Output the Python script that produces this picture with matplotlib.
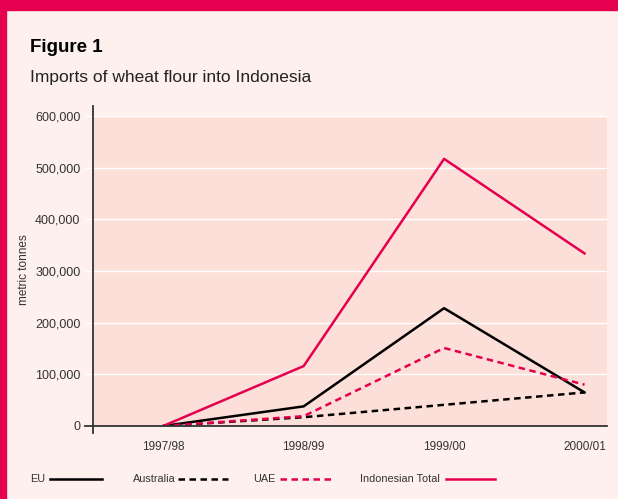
import matplotlib
matplotlib.use("Agg")
import matplotlib.pyplot as plt
from matplotlib.lines import Line2D
from matplotlib.patches import Rectangle

years = ["1997/98", "1998/99", "1999/00", "2000/01"]
eu = [0, 38000, 228000, 65000]
australia = [0, 17000, 41000, 65000]
uae = [0, 19000, 151000, 80000]
indonesian_total = [0, 116000, 517000, 334000]
yticks = [0, 100000, 200000, 300000, 400000, 500000, 600000]

MAG = "#E5004F"
BG = "#FDF0ED"
PLOT = "#FCDFD8"
TXT = "#333333"
DASH = (2.6, 1.8)

plt.rcParams['font.family'] = ['Liberation Sans', 'DejaVu Sans']

W, H = 618, 499
fig = plt.figure(figsize=(W/100, H/100), dpi=100)
fig.patch.set_facecolor(BG)
fig.patches.append(Rectangle((0, 1 - 10/H), 1, 10/H, transform=fig.transFigure, color=MAG, zorder=0))
fig.patches.append(Rectangle((0, 0), 6/W, 1, transform=fig.transFigure, color=MAG, zorder=0))

def fx(px):
    return px / W

def fy(py):
    return 1 - py / H

ax = fig.add_axes([fx(93), fy(426), fx(607) - fx(93), fy(116) - fy(426)])
ax.set_facecolor(PLOT)
x = list(range(len(years)))
ax.set_xlim(-0.5, 3.16)
ax.set_ylim(0, 600000)
for s in ax.spines.values():
    s.set_visible(False)
ax.set_yticks(yticks)
ax.set_yticklabels([f"{v:,}" for v in yticks], fontsize=9, color=TXT)
ax.set_xticks(x)
ax.set_xticklabels(years, fontsize=8.5, color=TXT)
ax.tick_params(axis='y', length=6, color='white', width=1, pad=3)
ax.tick_params(axis='x', length=0, pad=11)
ax.grid(axis='y', color='white', lw=1)
ax.set_axisbelow(True)

ax.plot(x, eu, color='black', lw=1.8, zorder=3)
ax.plot(x, australia, color='black', lw=1.8, dashes=DASH, zorder=3)
ax.plot(x, uae, color=MAG, lw=1.8, dashes=DASH, zorder=3)
ax.plot(x, indonesian_total, color=MAG, lw=1.8, zorder=3)

# axis lines
ax.add_line(Line2D([0, 0], [-7/310, 1 + 10/310], transform=ax.transAxes, color='#333333', lw=1.3, clip_on=False, zorder=4))
ax.add_line(Line2D([-8/514, 1.0], [0, 0], transform=ax.transAxes, color='#333333', lw=1.3, clip_on=False, zorder=4))

fig.text(fx(24), fy(270), "metric tonnes", rotation=90, fontsize=8.5, color=TXT, ha='center', va='center')

fig.text(fx(30), fy(47), "Figure 1", fontsize=13.5, fontweight='bold', color='black', ha='left', va='center')
fig.text(fx(30), fy(78), "Imports of wheat flour into Indonesia", fontsize=12.5, color='#222222', ha='left', va='center')

# legend
ly = fy(479)
items = [
    ("EU", 30, 50, 102, 'black', None),
    ("Australia", 133, 178, 228, 'black', DASH),
    ("UAE", 253, 280, 335, MAG, DASH),
    ("Indonesian Total", 360, 446, 495, MAG, None),
]
for label, tx, l0, l1, c, d in items:
    fig.text(fx(tx), ly, label, fontsize=7.8, color=TXT, ha='left', va='center')
    ln = Line2D([fx(l0), fx(l1)], [ly, ly], transform=fig.transFigure, color=c, lw=1.8)
    if d:
        ln.set_dashes(d)
    fig.lines.append(ln)

fig.savefig("out.png", dpi=100, facecolor=BG)
